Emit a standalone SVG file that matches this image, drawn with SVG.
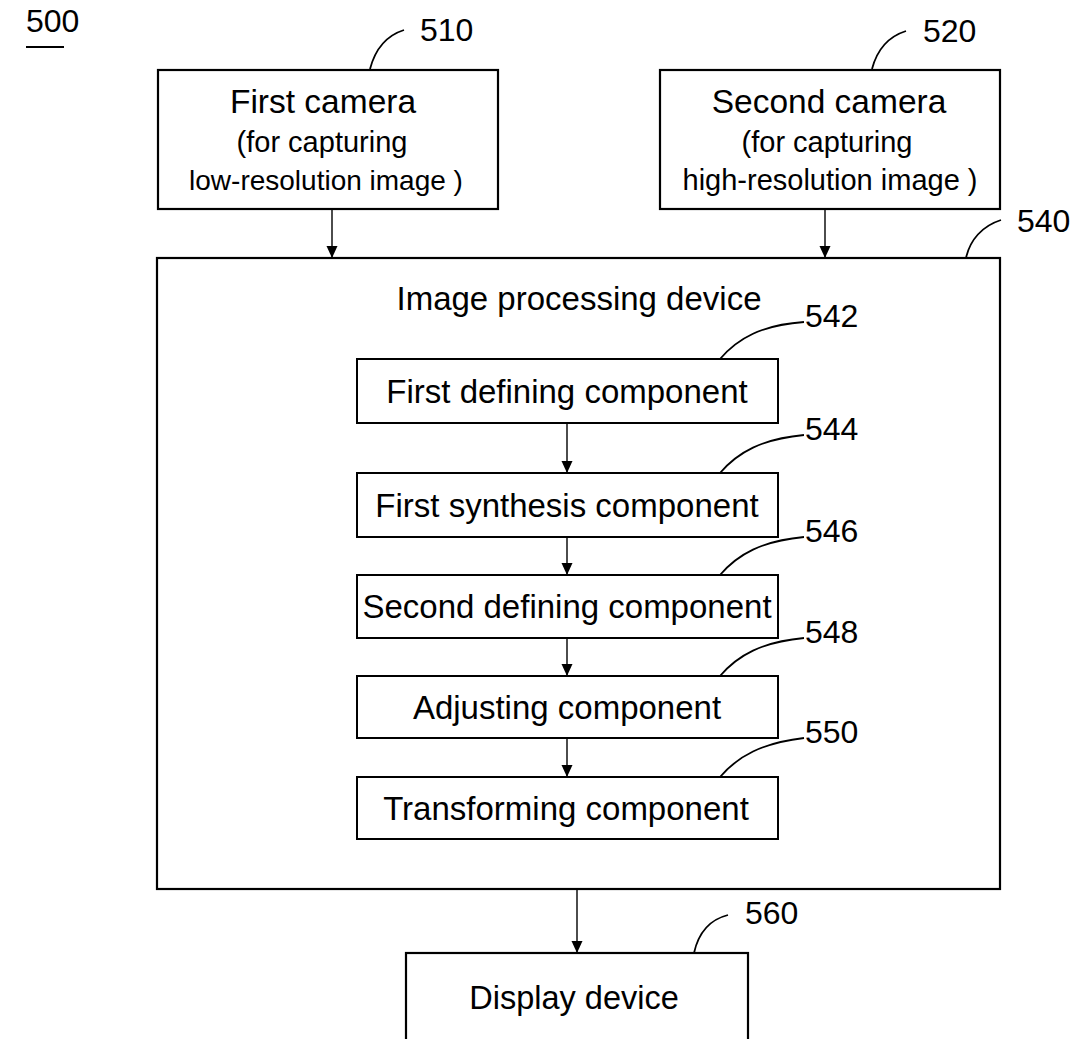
<svg xmlns="http://www.w3.org/2000/svg" width="1074" height="1039" viewBox="0 0 1074 1039">
<defs>
<style>
.box{fill:#fff;stroke:#000;stroke-width:2.2}
.ibox{fill:#fff;stroke:#000;stroke-width:2}
.t{font-family:"Liberation Sans",Arial,Helvetica,sans-serif;fill:#000;text-anchor:middle}
.lbl{font-family:"Liberation Sans",Arial,Helvetica,sans-serif;fill:#000;font-size:32px}
.lead{fill:none;stroke:#000;stroke-width:1.8}
.conn{fill:none;stroke:#000;stroke-width:1.4}
</style>
<marker id="arr" markerUnits="userSpaceOnUse" markerWidth="12" markerHeight="12" refX="12" refY="6" orient="auto">
<path d="M0,0.5 L12,6 L0,11.5 z" fill="#000"/>
</marker>
</defs>
<rect width="1074" height="1039" fill="#fff"/>

<g id="fig-label">
<text class="lbl" x="26" y="32">500</text>
<line x1="26" y1="47" x2="64" y2="47" stroke="#000" stroke-width="2"/>
</g>

<g id="node-510">
<rect class="box" x="158" y="70" width="340" height="139"/>
<text class="t" x="323" y="113" font-size="33.5">First camera</text>
<text class="t" x="322" y="152" font-size="29">(for capturing</text>
<text class="t" x="326" y="190" font-size="28">low-resolution image )</text>
<path class="lead" d="M370,69 C375,50 385,36 404,30"/>
<text class="lbl" x="420" y="41">510</text>
</g>

<g id="node-520">
<rect class="box" x="660" y="70" width="340" height="139"/>
<text class="t" x="829" y="113" font-size="33.5">Second camera</text>
<text class="t" x="827" y="152" font-size="29">(for capturing</text>
<text class="t" x="830" y="190" font-size="29">high-resolution image )</text>
<path class="lead" d="M872,69 C877,50 887,37 906,31"/>
<text class="lbl" x="923" y="42">520</text>
</g>

<g id="node-540">
<rect class="box" x="157" y="258" width="843" height="631"/>
<text class="t" x="579" y="310" font-size="33">Image processing device</text>
<path class="lead" d="M966,258 C970,240 982,226 1001,220"/>
<text class="lbl" x="1017" y="232">540</text>
</g>

<g id="node-542">
<rect class="ibox" x="357" y="359" width="421" height="64"/>
<text class="t" x="567" y="403" font-size="33">First defining component</text>
<path class="lead" d="M720,359 C738,338 762,325 804,322"/>
<text class="lbl" x="805" y="327">542</text>
</g>

<g id="node-544">
<rect class="ibox" x="357" y="473" width="421" height="64"/>
<text class="t" x="567" y="517" font-size="33">First synthesis component</text>
<path class="lead" d="M720,473 C738,452 762,439 804,435"/>
<text class="lbl" x="805" y="440">544</text>
</g>

<g id="node-546">
<rect class="ibox" x="357" y="575" width="421" height="63"/>
<text class="t" x="567" y="618" font-size="33">Second defining component</text>
<path class="lead" d="M720,575 C738,554 762,541 804,537"/>
<text class="lbl" x="805" y="542">546</text>
</g>

<g id="node-548">
<rect class="ibox" x="357" y="676" width="421" height="62"/>
<text class="t" x="567" y="719" font-size="33">Adjusting component</text>
<path class="lead" d="M720,676 C738,655 762,642 804,638"/>
<text class="lbl" x="805" y="643">548</text>
</g>

<g id="node-550">
<rect class="ibox" x="357" y="777" width="421" height="62"/>
<text class="t" x="566" y="820" font-size="33">Transforming component</text>
<path class="lead" d="M720,777 C738,756 762,743 804,738"/>
<text class="lbl" x="805" y="743">550</text>
</g>

<g id="node-560">
<rect class="box" x="406" y="953" width="342" height="110"/>
<text class="t" x="574" y="1009" font-size="32.5">Display device</text>
<path class="lead" d="M694,953 C698,935 708,920 728,915"/>
<text class="lbl" x="745" y="924">560</text>
</g>

<g id="connectors">
<line class="conn" x1="332" y1="209" x2="332" y2="258" marker-end="url(#arr)"/>
<line class="conn" x1="825" y1="209" x2="825" y2="258" marker-end="url(#arr)"/>
<line class="conn" x1="567" y1="423" x2="567" y2="473" marker-end="url(#arr)"/>
<line class="conn" x1="567" y1="537" x2="567" y2="575" marker-end="url(#arr)"/>
<line class="conn" x1="567" y1="638" x2="567" y2="676" marker-end="url(#arr)"/>
<line class="conn" x1="567" y1="738" x2="567" y2="777" marker-end="url(#arr)"/>
<line class="conn" x1="577" y1="889" x2="577" y2="953" marker-end="url(#arr)"/>
</g>
</svg>
